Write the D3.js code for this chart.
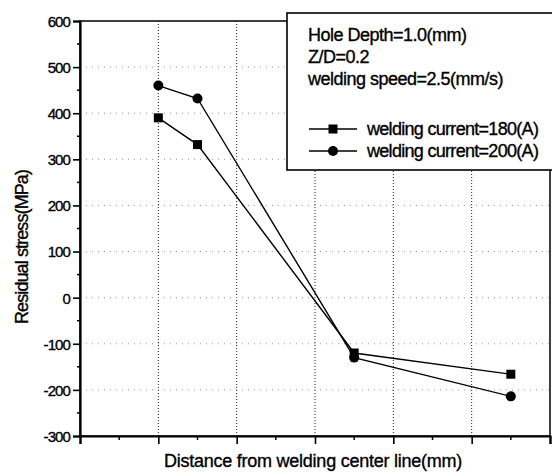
<!DOCTYPE html>
<html><head><meta charset="utf-8">
<script src="https://cdn.jsdelivr.net/npm/d3@7"></script>
<style>body{margin:0;background:#fff;} text{font-family:"Liberation Sans",Arial,sans-serif;fill:#000;stroke:#000;stroke-width:0.35px;}</style>
</head><body>
<svg id="c" width="552" height="472"></svg>
<script>
const xValues = [1, 1.5, 3.5, 5.5];
const current180 = [390, 332, -120, -166];
const current200 = [460, 432, -130, -214];
const seriesNames = ["welding current=180(A)", "welding current=200(A)"];
const legendNotes = ["Hole Depth=1.0(mm)", "Z/D=0.2", "welding speed=2.5(mm/s)"];
const yTicks = [-300, -200, -100, 0, 100, 200, 300, 400, 500, 600];
const xTicks = [0, 1, 2, 3, 4, 5, 6];
const xTitle = "Distance from welding center line(mm)";
const yTitle = "Residual stress(MPa)";

const svg = d3.select("#c");
const L = 80, R = 550, T = 21, B = 436;
const x = d3.scaleLinear().domain([0, 6]).range([L, R]);
const y = d3.scaleLinear().domain([-300, 600]).range([B, T]);

// grid
svg.append("g").selectAll("line").data(xTicks.slice(1, -1)).join("line")
  .attr("x1", d => x(d)).attr("x2", d => x(d)).attr("y1", T).attr("y2", B)
  .attr("stroke", "#222").attr("stroke-width", 1).attr("stroke-dasharray", "1,2");
svg.append("g").selectAll("line").data(yTicks.slice(1, -1)).join("line")
  .attr("x1", L).attr("x2", R).attr("y1", d => y(d)).attr("y2", d => y(d))
  .attr("stroke", "#999").attr("stroke-width", 1).attr("stroke-dasharray", "1,5");

// frame
svg.append("rect").attr("x", L).attr("y", T).attr("width", R - L).attr("height", B - T)
  .attr("fill", "none").attr("stroke", "#000").attr("stroke-width", 1.5);

// axes
const yAxis = d3.axisLeft(y).tickValues(yTicks).tickSize(7).tickPadding(3).tickFormat(d => String(d));
const gy = svg.append("g").attr("transform", `translate(${L},0)`).call(yAxis);
gy.select(".domain").attr("stroke-width", 2.2);
gy.selectAll(".tick line").attr("stroke-width", 1.6);
gy.selectAll("text").attr("font-size", 15).attr("letter-spacing", -0.9).attr("dy", "0.36em");
const yMinor = d3.range(-250, 600, 100);
svg.append("g").selectAll("line").data(yMinor).join("line")
  .attr("x1", L - 3).attr("x2", L).attr("y1", d => y(d)).attr("y2", d => y(d))
  .attr("stroke", "#000").attr("stroke-width", 1.5);

const xAxis = d3.axisBottom(x).tickValues(xTicks).tickSize(8).tickFormat("");
const gx = svg.append("g").attr("transform", `translate(0,${B})`).call(xAxis);
gx.select(".domain").attr("stroke-width", 2.2);
gx.selectAll(".tick line").attr("stroke-width", 1.6);
const xMinor = d3.range(0.5, 6, 1);
svg.append("g").selectAll("line").data(xMinor).join("line")
  .attr("x1", d => x(d)).attr("x2", d => x(d)).attr("y1", B).attr("y2", B + 4)
  .attr("stroke", "#000").attr("stroke-width", 1.5);

// titles
svg.append("text").attr("x", 313).attr("y", 467).attr("text-anchor", "middle")
  .attr("font-size", 18).attr("letter-spacing", -0.25).text(xTitle);
svg.append("text").attr("transform", `translate(28,247) rotate(-90)`)
  .attr("text-anchor", "middle").attr("font-size", 18).attr("letter-spacing", -0.9).text(yTitle);

// series
const line = d3.line().x(d => x(d[0])).y(d => y(d[1]));
const s1 = xValues.map((v, i) => [v, current180[i]]);
const s2 = xValues.map((v, i) => [v, current200[i]]);
[s1, s2].forEach(s => svg.append("path").datum(s).attr("d", line)
  .attr("fill", "none").attr("stroke", "#000").attr("stroke-width", 1.4));
svg.append("g").selectAll("rect").data(s1).join("rect")
  .attr("x", d => x(d[0]) - 4.5).attr("y", d => y(d[1]) - 4.5).attr("width", 9).attr("height", 9).attr("fill", "#000");
svg.append("g").selectAll("circle").data(s2).join("circle")
  .attr("cx", d => x(d[0])).attr("cy", d => y(d[1])).attr("r", 5).attr("fill", "#000");

// legend box
const lg = svg.append("g");
lg.append("rect").attr("x", 287).attr("y", 13).attr("width", 280).attr("height", 157)
  .attr("fill", "#fff").attr("stroke", "#000").attr("stroke-width", 1.6);
legendNotes.forEach((t, i) => lg.append("text").attr("x", 308).attr("y", [41, 63, 85][i])
  .attr("font-size", 18).attr("letter-spacing", -0.5).text(t));
seriesNames.forEach((t, i) => {
  const yy = [129, 151][i];
  lg.append("line").attr("x1", 309).attr("x2", 357).attr("y1", yy).attr("y2", yy)
    .attr("stroke", "#000").attr("stroke-width", 1.4);
  if (i === 0) lg.append("rect").attr("x", 328.5).attr("y", yy - 4.5).attr("width", 9).attr("height", 9).attr("fill", "#000");
  else lg.append("circle").attr("cx", 333).attr("cy", yy).attr("r", 5).attr("fill", "#000");
  lg.append("text").attr("x", 367).attr("y", yy + 6).attr("font-size", 18).attr("letter-spacing", -0.7).text(t);
});
</script>
</body></html>
